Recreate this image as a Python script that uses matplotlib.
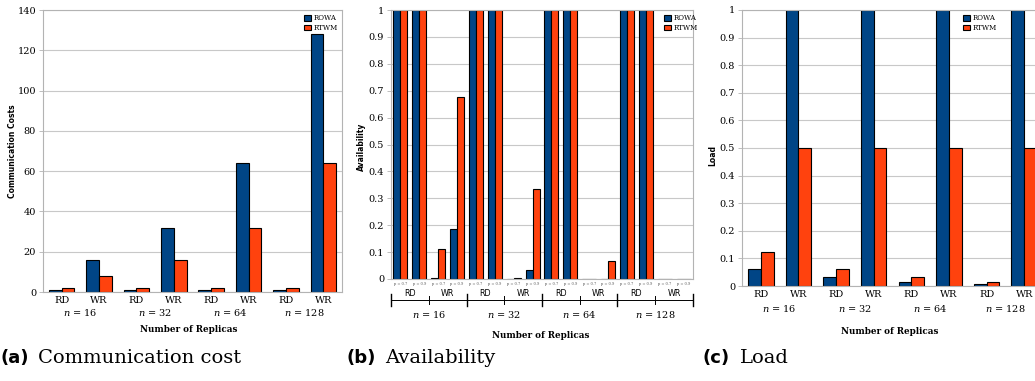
import matplotlib
matplotlib.use("Agg")
import matplotlib.pyplot as plt
import matplotlib.transforms as mtransforms
import numpy as np

plt.rcParams['mathtext.fontset'] = 'dejavuserif'

# data
groups = ["$n$ = 16", "$n$ = 32", "$n$ = 64", "$n$ = 128"]
ops = ["RD", "WR"]
probs = ["p = 0.7", "p = 0.9"]

cost_rowa = [1, 16, 1, 32, 1, 64, 1, 128]
cost_rtwm = [2, 8, 2, 16, 2, 32, 2, 64]

# availability: per n -> RD p0.7, RD p0.9, WR p0.7, WR p0.9
avail_rowa = [1, 1, 0.003, 0.185,
              1, 1, 0.0005, 0.034,
              1, 1, 0.0005, 0.0012,
              1, 1, 0.0005, 0.0005]
avail_rtwm = [1, 1, 0.112, 0.677,
              1, 1, 0.005, 0.336,
              1, 1, 0.0005, 0.067,
              1, 1, 0.0005, 0.0008]

load_rowa = [0.0625, 1, 0.03125, 1, 0.0156, 1, 0.0078, 1]
load_rtwm = [0.125, 0.5, 0.0625, 0.5, 0.03125, 0.5, 0.0156, 0.5]

c_rowa = '#004586'
c_rtwm = '#ff420e'
W, H = 1035, 381
serif = 'DejaVu Serif'
TS = 7  # tick label size

fig = plt.figure(figsize=(W / 100, H / 100), dpi=100)


def px(x, y):
    return x / W, 1 - y / H


def make_axes(left, right, top, bottom):
    ax = fig.add_axes([left / W, 1 - bottom / H, (right - left) / W, (bottom - top) / H])
    for s in ax.spines.values():
        s.set_color('#b3b3b3')
        s.set_linewidth(0.8)
    ax.yaxis.grid(True, color='#c8c8c8', lw=0.8)
    ax.set_axisbelow(True)
    ax.tick_params(axis='y', length=3, width=0.6, color='#b3b3b3', labelsize=TS, pad=2)
    ax.tick_params(axis='x', length=0)
    return ax


def style_ticks(ax):
    for t in ax.get_yticklabels() + ax.get_xticklabels():
        t.set_family(serif)


def bars(ax, vals1, vals2, w):
    x = np.arange(len(vals1))
    ax.bar(x - w / 2, vals1, w, color=c_rowa, edgecolor='black', lw=0.8, label='ROWA')
    ax.bar(x + w / 2, vals2, w, color=c_rtwm, edgecolor='black', lw=0.8, label='RTWM')
    ax.set_xlim(-0.5, len(vals1) - 0.5)


def legend(ax, anchor):
    ax.legend(loc='upper right', bbox_to_anchor=anchor, frameon=False,
              prop={'family': serif, 'size': 5}, handlelength=1.0, handleheight=0.9,
              handletextpad=0.4, labelspacing=0.25, borderaxespad=0.2)


def group_labels(ax, ypx, per):
    tr = mtransforms.blended_transform_factory(ax.transData, fig.transFigure)
    for i, g in enumerate(groups):
        ax.text(i * per + (per - 1) / 2, 1 - ypx / H, g, transform=tr, ha='center',
                va='center', fontsize=TS, family=serif)


def cap(xpx, letter, text):
    fig.text(xpx / W, 1 - 358 / H, letter, fontsize=13, weight='bold', family='DejaVu Sans',
             va='center')
    fig.text((xpx + 38) / W, 1 - 358 / H, text, fontsize=14, family=serif, va='center')


def xlabel(xpx, ypx):
    fig.text(*px(xpx, ypx), 'Number of Replicas', ha='center', va='center', fontsize=6.3,
             weight='bold', family=serif)


def ylabel(xpx, ypx, text):
    fig.text(*px(xpx, ypx), text, rotation=90, ha='center', va='center',
             fontsize=5.5, weight='bold', family='DejaVu Sans')


# (a) communication cost
ax1 = make_axes(43, 342, 10, 292)
bars(ax1, cost_rowa, cost_rtwm, 0.34)
ax1.set_ylim(0, 140)
ax1.set_yticks(range(0, 141, 20))
ax1.set_xticks(range(8))
ax1.set_xticklabels(ops * 4, fontsize=TS)
ax1.tick_params(axis='x', pad=3)
style_ticks(ax1)
group_labels(ax1, 312, 2)
xlabel(189, 329)
ylabel(13, 151, 'Communication Costs')
legend(ax1, (1.0, 1.0))
cap(0, '(a)', 'Communication cost')

# (b) availability
ax2 = make_axes(391, 693, 10, 279)
bars(ax2, avail_rowa, avail_rtwm, 0.37)
ax2.set_ylim(0, 1)
ax2.set_yticks(np.arange(0, 1.01, 0.1))
ax2.set_yticklabels(['0'] + ['%.1f' % v for v in np.arange(0.1, 0.95, 0.1)] + ['1'])
ax2.set_xticks(range(16))
ax2.set_xticklabels(probs * 8, fontsize=2.6, color='#555555')
ax2.tick_params(axis='x', pad=2)
style_ticks(ax2)
tr = mtransforms.blended_transform_factory(ax2.transData, fig.transFigure)
yb = 1 - 300 / H
for k in range(8):
    a, b = 2 * k - 0.5, 2 * k + 1.5
    ax2.plot([a, b], [yb, yb], transform=tr, color='black', lw=0.7, clip_on=False)
    ax2.text((a + b) / 2, 1 - 293.5 / H, ops[k % 2], transform=tr, ha='center', va='center',
             fontsize=5.8, family='DejaVu Sans')
for k in range(9):
    xb = 2 * k - 0.5
    h = 6 if k % 2 == 0 else 4
    ax2.plot([xb, xb], [1 - (300 - h) / H, 1 - (300 + h) / H], transform=tr,
             color='black', lw=1.0 if k % 2 == 0 else 0.7, clip_on=False)
group_labels(ax2, 314, 4)
xlabel(541, 335)
ylabel(361, 147, 'Availability')
legend(ax2, (1.03, 1.0))
cap(347, '(b)', 'Availability')

# (c) load
ax3 = make_axes(742, 1043, 10, 286)
bars(ax3, load_rowa, load_rtwm, 0.34)
ax3.set_ylim(0, 1)
ax3.set_yticks(np.arange(0, 1.01, 0.1))
ax3.set_yticklabels(['0'] + ['%.1f' % v for v in np.arange(0.1, 0.95, 0.1)] + ['1'])
ax3.set_xticks(range(8))
ax3.set_xticklabels(ops * 4, fontsize=TS)
ax3.tick_params(axis='x', pad=3)
style_ticks(ax3)
group_labels(ax3, 309, 2)
xlabel(890, 331)
ylabel(713, 155, 'Load')
legend(ax3, (0.86, 1.0))
cap(702, '(c)', 'Load')

fig.savefig('out.png', dpi=100)
